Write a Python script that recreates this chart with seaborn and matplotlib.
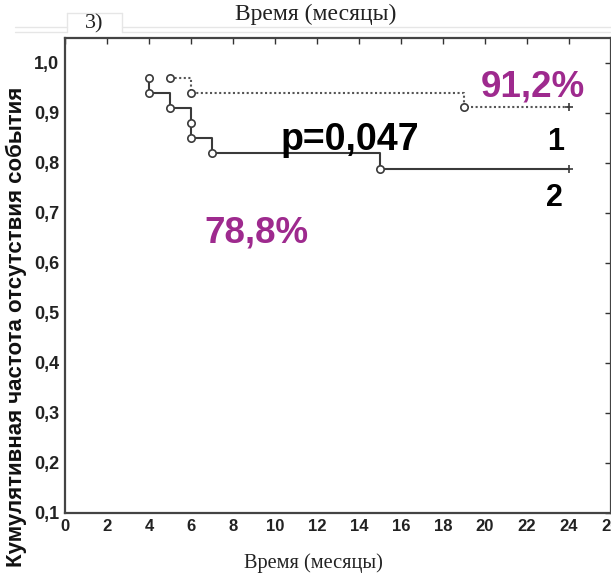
import matplotlib
matplotlib.use("Agg")
import matplotlib.pyplot as plt
import matplotlib.lines as mlines
import seaborn as sns
import pandas as pd

# ---- data ----
g1_times = [5, 6, 19, 24]
g1_surv = [0.97, 0.94, 0.912, 0.912]
g2_times = [4, 4, 5, 6, 6, 7, 15, 24]
g2_surv = [0.97, 0.94, 0.91, 0.88, 0.85, 0.82, 0.788, 0.788]

x_ticks = list(range(0, 28, 2))
x_tick_labels = [str(v) for v in x_ticks]
y_ticks = [0.1, 0.2, 0.3, 0.4, 0.5, 0.6, 0.7, 0.8, 0.9, 1.0]
y_tick_labels = ["0,1", "0,2", "0,3", "0,4", "0,5", "0,6", "0,7", "0,8", "0,9", "1,0"]

x_label = "Время (месяцы)"
y_label = "Кумулятивная частота отсутствия события"
panel_label = "3)"
p_text = "p=0,047"
g1_pct = "91,2%"
g2_pct = "78,8%"
g1_name = "1"
g2_name = "2"

sns.set_style("white")
plt.rcParams["font.family"] = ["Liberation Sans", "DejaVu Sans"]

purple = "#9E2A8E"
line_col = "#3a3a3a"

fig = plt.figure(figsize=(6.11, 5.75), dpi=100)
W, H = 611, 575
ax = fig.add_axes([65 / W, 1 - 513 / H, (611 - 65) / W, (513 - 38) / H])

df1 = pd.DataFrame({"t": g1_times, "s": g1_surv})
df2 = pd.DataFrame({"t": g2_times, "s": g2_surv})

sns.lineplot(data=df1, x="t", y="s", ax=ax, estimator=None, sort=False,
             drawstyle="steps-post", color="#555555", linestyle=(0, (1, 1.2)),
             linewidth=1.5)
sns.lineplot(data=df2, x="t", y="s", ax=ax, estimator=None, sort=False,
             drawstyle="steps-post", color=line_col, linewidth=1.5)

# event circles
sns.scatterplot(data=df1.iloc[:-1], x="t", y="s", ax=ax, marker="o", s=28,
                facecolor="white", edgecolor=line_col, linewidth=1.2, zorder=5)
sns.scatterplot(data=df2.iloc[:-1], x="t", y="s", ax=ax, marker="o", s=28,
                facecolor="white", edgecolor=line_col, linewidth=1.2, zorder=5)
# censored end marks
sns.scatterplot(data=df1.iloc[-1:], x="t", y="s", ax=ax, marker="+", s=36,
                color=line_col, linewidth=1.2, zorder=5)
sns.scatterplot(data=df2.iloc[-1:], x="t", y="s", ax=ax, marker="+", s=36,
                color=line_col, linewidth=1.2, zorder=5)

ax.set_xlim(0, 26)
ax.set_ylim(0.1, 1.05)
ax.set_xticks(x_ticks)
ax.set_xticklabels(x_tick_labels, fontsize=12, fontweight="bold", color="#222222")
ax.set_yticks(y_ticks)
ax.set_yticklabels(y_tick_labels, fontsize=13, fontweight="bold", color="#222222")
ax.tick_params(direction="in", top=True, right=True, length=4, width=1,
               color="#333333", pad=4)
for sp in ax.spines.values():
    sp.set_visible(True)
    sp.set_color("#444444")
    sp.set_linewidth(1.6)
ax.set_xlabel("")
ax.set_ylabel("")

# annotations
ax.text(22.29, 0.932, g1_pct, color=purple, fontsize=26.5, fontweight="bold",
        ha="center", va="baseline")
ax.text(9.12, 0.641, g2_pct, color=purple, fontsize=26.5, fontweight="bold",
        ha="center", va="baseline")
ax.text(13.57, 0.826, p_text, color="black", fontsize=27, fontweight="bold",
        ha="center", va="baseline")
ax.text(23.38, 0.826, g1_name, color="black", fontsize=22, fontweight="bold",
        ha="center", va="baseline")
ax.text(23.33, 0.714, g2_name, color="black", fontsize=22, fontweight="bold",
        ha="center", va="baseline")

# figure-level labels
fig.text(316 / W, 1 - 14 / H, x_label, fontsize=17, family="Liberation Serif",
         ha="center", va="center", color="#222222")
fig.text(313 / W, 1 - 563 / H, x_label, fontsize=14.7, family="Liberation Serif",
         ha="center", va="center", color="#222222")
fig.text(94 / W, 1 - 24 / H, panel_label, fontsize=16, family="Liberation Serif",
         ha="center", va="center", color="#222222")
fig.text(16 / W, 1 - 327 / H, y_label, fontsize=16, fontweight="bold",
         rotation=90, ha="center", va="center", color="#111111")

# faint scan frame lines
faint = "#e6e6e6"
for (x0, x1, y) in [(15, 67, 27), (122, 611, 27), (15, 67, 32), (122, 611, 32)]:
    fig.add_artist(mlines.Line2D([x0 / W, x1 / W], [1 - y / H, 1 - y / H],
                                 color=faint, linewidth=1))
for xv in (67, 122):
    fig.add_artist(mlines.Line2D([xv / W, xv / W], [1 - 13 / H, 1 - 32 / H],
                                 color=faint, linewidth=1))
fig.add_artist(mlines.Line2D([67 / W, 122 / W], [1 - 13 / H, 1 - 13 / H],
                             color=faint, linewidth=1))

fig.savefig("out.png", dpi=100)
